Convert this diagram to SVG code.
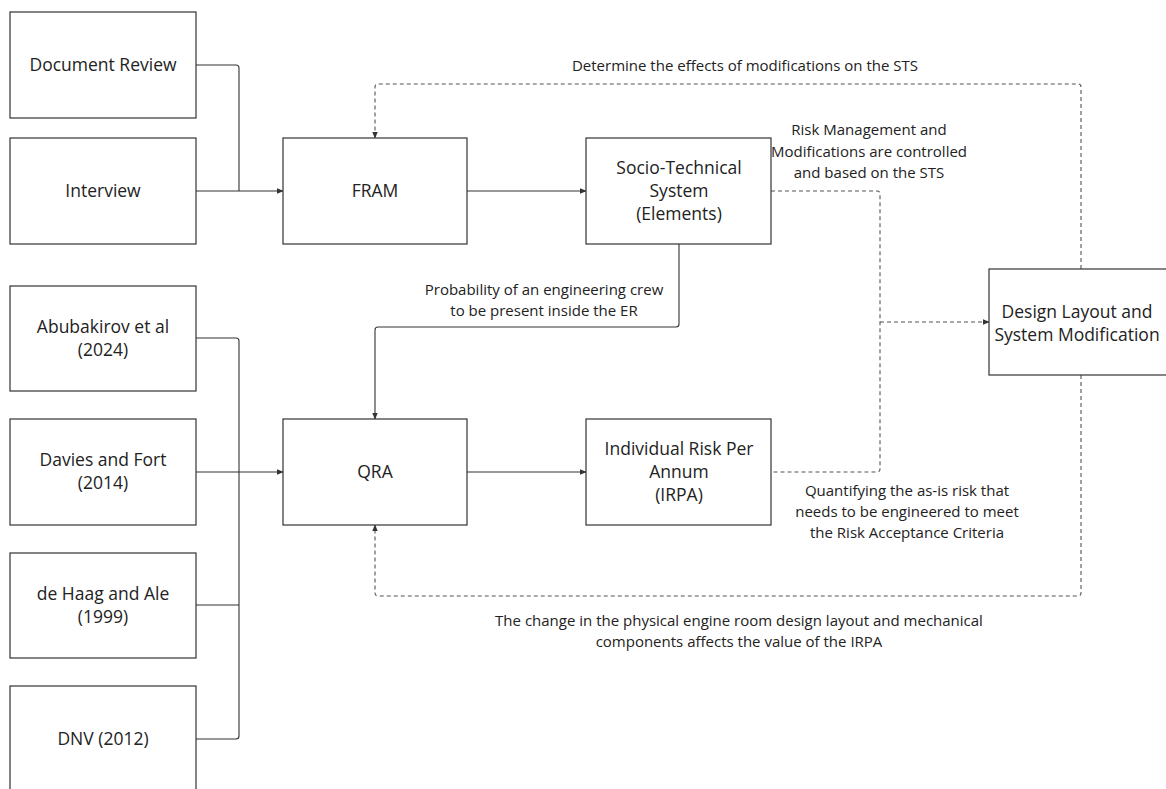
<svg xmlns="http://www.w3.org/2000/svg" width="1166" height="789" viewBox="0 0 1166 789">
  <defs>
    <style>
      .box { fill: #ffffff; stroke: #333333; stroke-width: 1.2; }
      .node-text { font-family: "Open Sans", "Noto Sans", sans-serif; font-size: 17.5px; fill: #222222; text-anchor: middle; }
      .label { font-family: "Open Sans", "Noto Sans", sans-serif; font-size: 15px; fill: #222222; text-anchor: middle; }
      .wire { fill: none; stroke: #333333; stroke-width: 1.1; }
      .dash { fill: none; stroke: #555555; stroke-width: 1.1; stroke-dasharray: 4 3; }
    </style>
    <marker id="arrow" viewBox="0 0 10 10" refX="9" refY="5" markerWidth="7" markerHeight="7" orient="auto" markerUnits="userSpaceOnUse">
      <path d="M0,1 L10,5 L0,9 z" fill="#333333"/>
    </marker>
  </defs>
  <rect width="1166" height="789" fill="#ffffff"/>

  <!-- connectors -->
  <g id="connectors">
    <!-- inputs to FRAM -->
    <path class="wire" d="M196,65 H236 Q239,65 239,68 V191"/>
    <path class="wire" d="M196,191 H283" marker-end="url(#arrow)"/>
    <!-- literature inputs to QRA -->
    <path class="wire" d="M196,338 H236 Q239,338 239,341 V736 Q239,739 236,739 H196"/>
    <path class="wire" d="M196,605 H239"/>
    <path class="wire" d="M196,472 H283" marker-end="url(#arrow)"/>
    <!-- main flow -->
    <path class="wire" d="M467,191 H586" marker-end="url(#arrow)"/>
    <path class="wire" d="M467,472 H586" marker-end="url(#arrow)"/>
    <!-- STS down to QRA -->
    <path class="wire" d="M679,244 V324 Q679,327 676,327 H378 Q375,327 375,330 V419" marker-end="url(#arrow)"/>
    <!-- STS and IRPA to Design Layout -->
    <path class="dash" d="M771,191 H877 Q880,191 880,194 V469 Q880,472 877,472 H771"/>
    <path class="dash" d="M880,322 H989" marker-end="url(#arrow)"/>
    <!-- feedback to FRAM -->
    <path class="dash" d="M1081,269 V87 Q1081,84 1078,84 H378 Q375,84 375,87 V138" marker-end="url(#arrow)"/>
    <!-- feedback to QRA -->
    <path class="dash" d="M1081,375 V593 Q1081,596 1078,596 H378 Q375,596 375,593 V525" marker-end="url(#arrow)"/>
  </g>

  <!-- connector labels -->
  <g id="labels">
    <text class="label" x="745" y="71">Determine the effects of modifications on the STS</text>
    <text class="label" x="869" y="135">Risk Management and</text>
    <text class="label" x="869" y="157">Modifications are controlled</text>
    <text class="label" x="869" y="178">and based on the STS</text>
    <text class="label" x="544" y="295">Probability of an engineering crew</text>
    <text class="label" x="544" y="316">to be present inside the ER</text>
    <text class="label" x="907" y="496">Quantifying the as-is risk that</text>
    <text class="label" x="907" y="517">needs to be engineered to meet</text>
    <text class="label" x="907" y="538">the Risk Acceptance Criteria</text>
    <text class="label" x="739" y="626">The change in the physical engine room design layout and mechanical</text>
    <text class="label" x="739" y="647">components affects the value of the IRPA</text>
  </g>

  <!-- nodes -->
  <g id="doc-review">
    <rect class="box" x="10" y="12" width="186" height="106"/>
    <text class="node-text" x="103" y="71">Document Review</text>
  </g>
  <g id="interview">
    <rect class="box" x="10" y="138" width="186" height="106"/>
    <text class="node-text" x="103" y="197">Interview</text>
  </g>
  <g id="fram">
    <rect class="box" x="283" y="138" width="184" height="106"/>
    <text class="node-text" x="375" y="197">FRAM</text>
  </g>
  <g id="sts">
    <rect class="box" x="586" y="138" width="185" height="106"/>
    <text class="node-text" x="679" y="174">Socio-Technical</text>
    <text class="node-text" x="679" y="197">System</text>
    <text class="node-text" x="679" y="220">(Elements)</text>
  </g>
  <g id="abubakirov">
    <rect class="box" x="10" y="286" width="186" height="105"/>
    <text class="node-text" x="103" y="333">Abubakirov et al</text>
    <text class="node-text" x="103" y="356">(2024)</text>
  </g>
  <g id="davies">
    <rect class="box" x="10" y="419" width="186" height="106"/>
    <text class="node-text" x="103" y="466">Davies and Fort</text>
    <text class="node-text" x="103" y="489">(2014)</text>
  </g>
  <g id="dehaag">
    <rect class="box" x="10" y="553" width="186" height="105"/>
    <text class="node-text" x="103" y="600">de Haag and Ale</text>
    <text class="node-text" x="103" y="623">(1999)</text>
  </g>
  <g id="dnv">
    <rect class="box" x="10" y="686" width="186" height="106"/>
    <text class="node-text" x="103" y="745">DNV (2012)</text>
  </g>
  <g id="qra">
    <rect class="box" x="283" y="419" width="184" height="106"/>
    <text class="node-text" x="375" y="478">QRA</text>
  </g>
  <g id="irpa">
    <rect class="box" x="586" y="419" width="185" height="106"/>
    <text class="node-text" x="679" y="455">Individual Risk Per</text>
    <text class="node-text" x="679" y="478">Annum</text>
    <text class="node-text" x="679" y="501">(IRPA)</text>
  </g>
  <g id="design-layout">
    <rect class="box" x="989" y="269" width="186" height="106"/>
    <text class="node-text" x="1077" y="318">Design Layout and</text>
    <text class="node-text" x="1077" y="341">System Modification</text>
  </g>
</svg>
